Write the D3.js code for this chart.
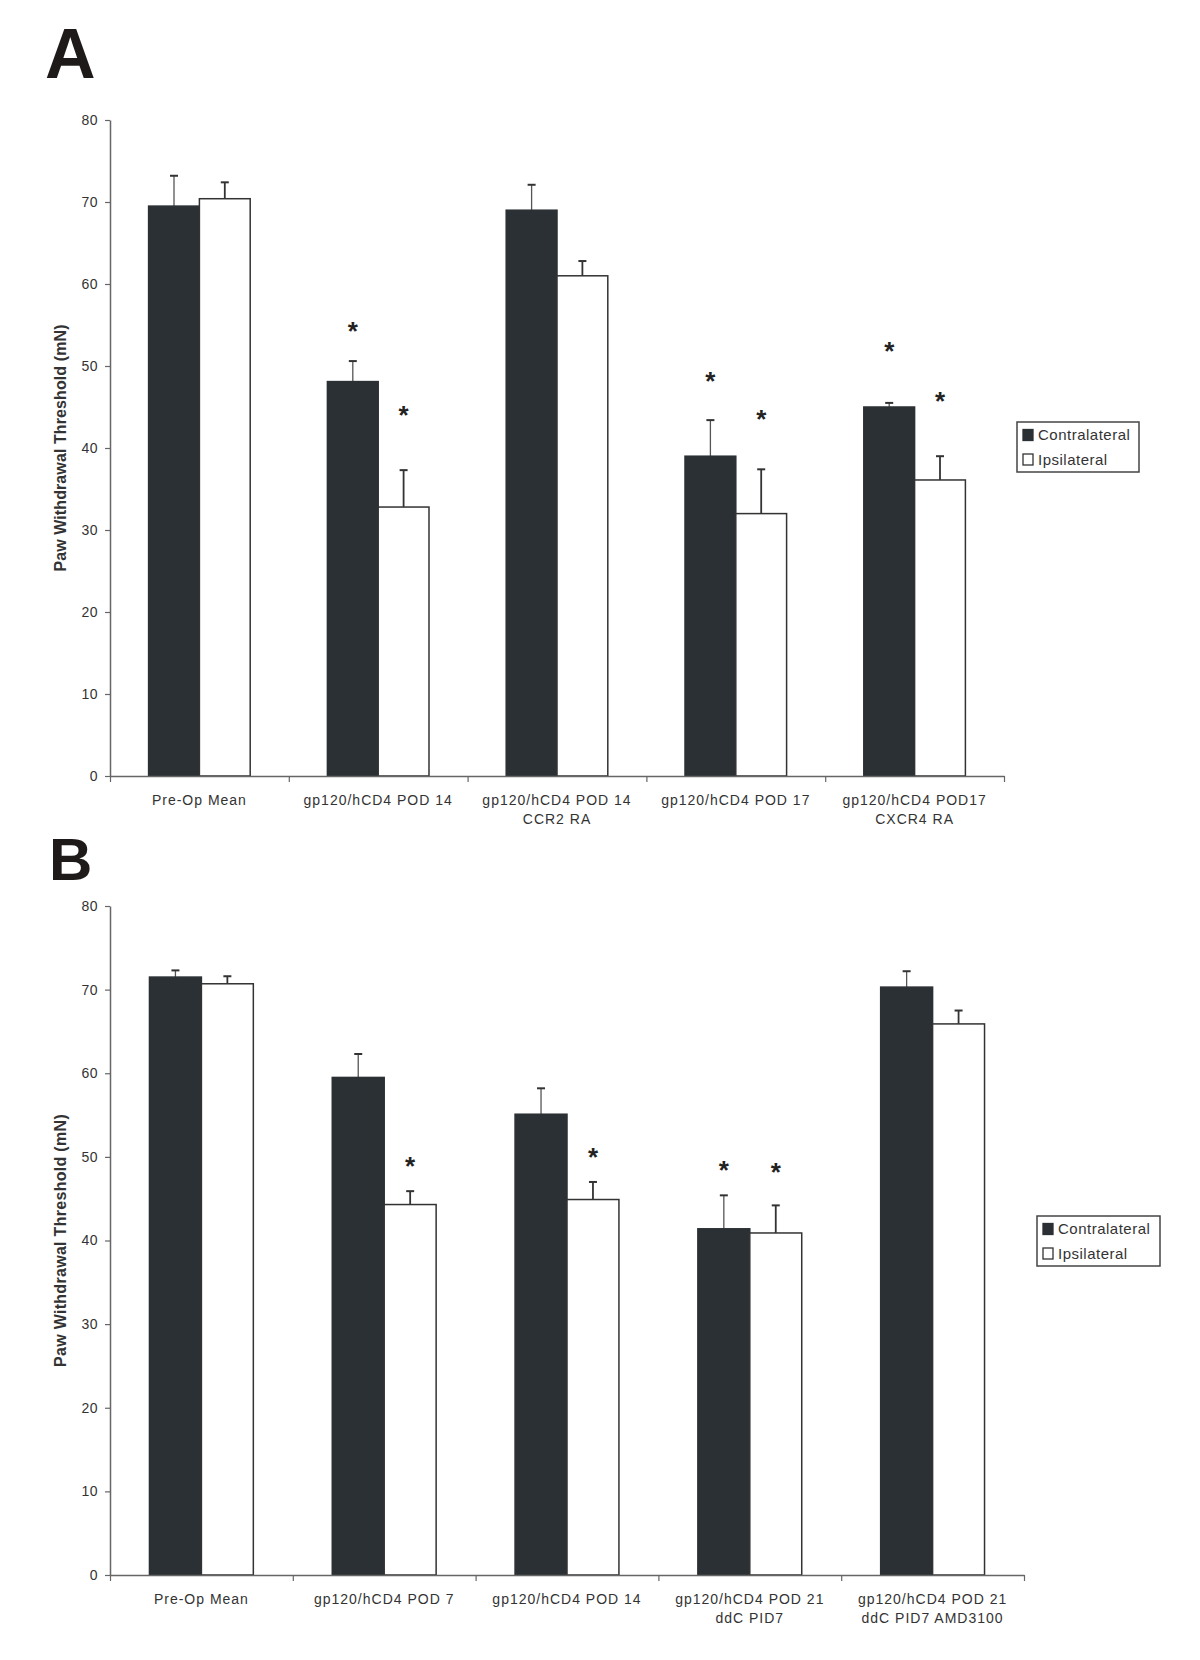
<!DOCTYPE html>
<html>
<head>
<meta charset="utf-8">
<script src="https://cdn.jsdelivr.net/npm/d3@7/dist/d3.min.js"></script>
<style>
  html, body { margin: 0; padding: 0; background: #fff; }
  svg { display: block; }
  text { font-family: "Liberation Sans", Arial, sans-serif; }
</style>
</head>
<body>
<svg id="chart" width="1200" height="1660"></svg>
<script>
// ---------- DATA ----------
const seriesNames = ["Contralateral", "Ipsilateral"];
const yTicks = [0, 10, 20, 30, 40, 50, 60, 70, 80];

// Panel A
const categoriesA = [
  ["Pre-Op Mean"],
  ["gp120/hCD4 POD 14"],
  ["gp120/hCD4  POD 14", "CCR2 RA"],
  ["gp120/hCD4 POD 17"],
  ["gp120/hCD4 POD17", "CXCR4 RA"]
];
const contraA    = [69.5, 48.1, 69.0, 39.0, 45.0];
const contraErrA = [3.7, 2.5, 3.1, 4.4, 0.5];
const ipsiA      = [70.4, 32.8, 61.0, 32.0, 36.1];
const ipsiErrA   = [2.0, 4.5, 1.8, 5.4, 2.9];
const starContraA = [null, 54.8, null, 48.6, 52.3];
const starIpsiA   = [null, 44.5, null, 44.0, 46.2];

// Panel B
const categoriesB = [
  ["Pre-Op Mean"],
  ["gp120/hCD4 POD 7"],
  ["gp120/hCD4 POD 14"],
  ["gp120/hCD4 POD 21", "ddC PID7"],
  ["gp120/hCD4 POD 21", "ddC PID7 AMD3100"]
];
const contraB    = [71.5, 59.5, 55.1, 41.4, 70.3];
const contraErrB = [0.8, 2.8, 3.1, 4.0, 1.9];
const ipsiB      = [70.7, 44.3, 44.9, 40.9, 65.9];
const ipsiErrB   = [0.9, 1.6, 2.1, 3.3, 1.6];
const starContraB = [null, null, null, 48.9, null];
const starIpsiB   = [null, 49.4, 50.5, 48.7, null];

// ---------- DRAW ----------
const svg = d3.select("#chart");
const DARK = "#2b3035";
const AXIS = "#666";

function drawPanel(o) {
  const g = svg.append("g");
  const n = o.categories.length;
  const y = d3.scaleLinear().domain([0, 80]).range([o.y0, o.y80]);
  const xBand = d3.scaleBand().domain(d3.range(n)).range([o.xStart, o.xEnd]).paddingInner(0).paddingOuter(0);
  const xInner = d3.scaleBand().domain(seriesNames).range([0, xBand.bandwidth()]).paddingInner(0).paddingOuter(0.76);
  const xLin = d3.scaleLinear().domain([0, n]).range([o.xStart, o.xEnd]);

  // panel letter
  g.append("text").attr("x", o.letterX).attr("y", o.letterY)
    .attr("font-size", o.letterSize).attr("font-weight", "bold").attr("fill", "#1e1a1a")
    .text(o.letter);

  // y axis
  const yAxis = g.append("g").attr("transform", `translate(${o.xStart},0)`)
    .call(d3.axisLeft(y).tickValues(yTicks).tickSize(5).tickSizeOuter(0).tickPadding(7));
  yAxis.select(".domain").attr("stroke", AXIS).attr("stroke-width", 1.5);
  yAxis.selectAll(".tick line").attr("stroke", AXIS).attr("stroke-width", 1.2);
  yAxis.selectAll(".tick text").attr("font-size", 14).attr("fill", "#333")
    .attr("font-family", "Liberation Sans, Arial, sans-serif").style("letter-spacing", "0.5px");

  // y label
  g.append("text")
    .attr("transform", `translate(${o.yLabelX},${(o.y0 + o.y80) / 2}) rotate(-90)`)
    .attr("text-anchor", "middle").attr("font-size", 16).attr("font-weight", "bold")
    .attr("fill", "#333").style("letter-spacing", o.yLabelSpacing)
    .text("Paw Withdrawal Threshold (mN)");

  const rows = d3.range(n).map(i => ({
    i,
    vals: [
      { s: "Contralateral", v: o.contra[i], e: o.contraErr[i], star: o.starC[i] },
      { s: "Ipsilateral", v: o.ipsi[i], e: o.ipsiErr[i], star: o.starI[i] }
    ]
  }));

  const grp = g.selectAll("g.cat").data(rows).join("g")
    .attr("class", "cat").attr("transform", d => `translate(${xBand(d.i)},0)`);

  // error bars (behind bars)
  grp.selectAll("g.err").data(d => d.vals).join("g").attr("class", "err").each(function (d) {
    const cx = xInner(d.s) + xInner.bandwidth() / 2;
    const e = d3.select(this);
    e.append("line").attr("x1", cx).attr("x2", cx).attr("y1", y(d.v)).attr("y2", y(d.v + d.e))
      .attr("stroke", d.s === "Contralateral" ? "#555" : "#333").attr("stroke-width", d.s === "Contralateral" ? 1.3 : 1.8);
    e.append("line").attr("x1", cx - 4).attr("x2", cx + 4).attr("y1", y(d.v + d.e)).attr("y2", y(d.v + d.e))
      .attr("stroke", "#333").attr("stroke-width", 2);
  });

  // bars
  grp.selectAll("rect.bar").data(d => d.vals).join("rect").attr("class", "bar")
    .attr("x", d => xInner(d.s))
    .attr("y", d => y(d.v))
    .attr("width", xInner.bandwidth())
    .attr("height", d => y(0) - y(d.v))
    .attr("fill", d => d.s === "Contralateral" ? DARK : "#fff")
    .attr("stroke", d => d.s === "Contralateral" ? DARK : "#333")
    .attr("stroke-width", 1.5);

  // stars
  grp.selectAll("text.star").data(d => d.vals.filter(v => v.star != null)).join("text").attr("class", "star")
    .attr("x", d => xInner(d.s) + xInner.bandwidth() / 2)
    .attr("y", d => y(d.star) + 13)
    .attr("text-anchor", "middle").attr("font-size", 26).attr("font-weight", "bold").attr("fill", "#222")
    .text("*");

  // x axis
  const xAxis = g.append("g").attr("transform", `translate(0,${o.y0})`)
    .call(d3.axisBottom(xLin).tickValues(d3.range(n + 1)).tickFormat("").tickSize(6).tickSizeOuter(0));
  xAxis.select(".domain").attr("stroke", AXIS).attr("stroke-width", 1.5);
  xAxis.selectAll(".tick line").attr("stroke", AXIS).attr("stroke-width", 1.2);

  // category labels
  const lab = g.selectAll("text.cat").data(o.categories).join("text").attr("class", "cat")
    .attr("x", (d, i) => xBand(i) + xBand.bandwidth() / 2)
    .attr("y", o.y0 + 29)
    .attr("text-anchor", "middle").attr("font-size", 14).attr("fill", "#333")
    .style("letter-spacing", "1px");
  lab.selectAll("tspan").data(d => d).join("tspan")
    .attr("x", function () { return d3.select(this.parentNode).attr("x"); })
    .attr("dy", (d, j) => j === 0 ? 0 : 19)
    .text(d => d);

  // legend
  const lg = g.append("g").attr("transform", `translate(${o.legX},${o.legY})`);
  lg.append("rect").attr("width", o.legW).attr("height", 50).attr("fill", "#fff")
    .attr("stroke", "#444").attr("stroke-width", 1.5);
  seriesNames.forEach((s, k) => {
    const cy = 13 + k * 24.5;
    lg.append("rect").attr("x", 6).attr("y", cy - 5.5).attr("width", 10).attr("height", 11)
      .attr("fill", k === 0 ? DARK : "#fff").attr("stroke", k === 0 ? DARK : "#333").attr("stroke-width", 1.3);
    lg.append("text").attr("x", 21).attr("y", cy + 5).attr("font-size", 15).attr("fill", "#333")
      .style("letter-spacing", "0.5px").text(s);
  });
}

drawPanel({
  letter: "A", letterX: 45, letterY: 78, letterSize: 70,
  categories: categoriesA, contra: contraA, contraErr: contraErrA, ipsi: ipsiA, ipsiErr: ipsiErrA,
  starC: starContraA, starI: starIpsiA,
  y0: 776, y80: 120, xStart: 110, xEnd: 1004, yLabelX: 66, yLabelSpacing: "0.1px",
  legX: 1017, legY: 422, legW: 122
});

drawPanel({
  letter: "B", letterX: 49, letterY: 880, letterSize: 60,
  categories: categoriesB, contra: contraB, contraErr: contraErrB, ipsi: ipsiB, ipsiErr: ipsiErrB,
  starC: starContraB, starI: starIpsiB,
  y0: 1575, y80: 906, xStart: 110, xEnd: 1024, yLabelX: 66, yLabelSpacing: "0.3px",
  legX: 1037, legY: 1216, legW: 123
});
</script>
</body>
</html>
